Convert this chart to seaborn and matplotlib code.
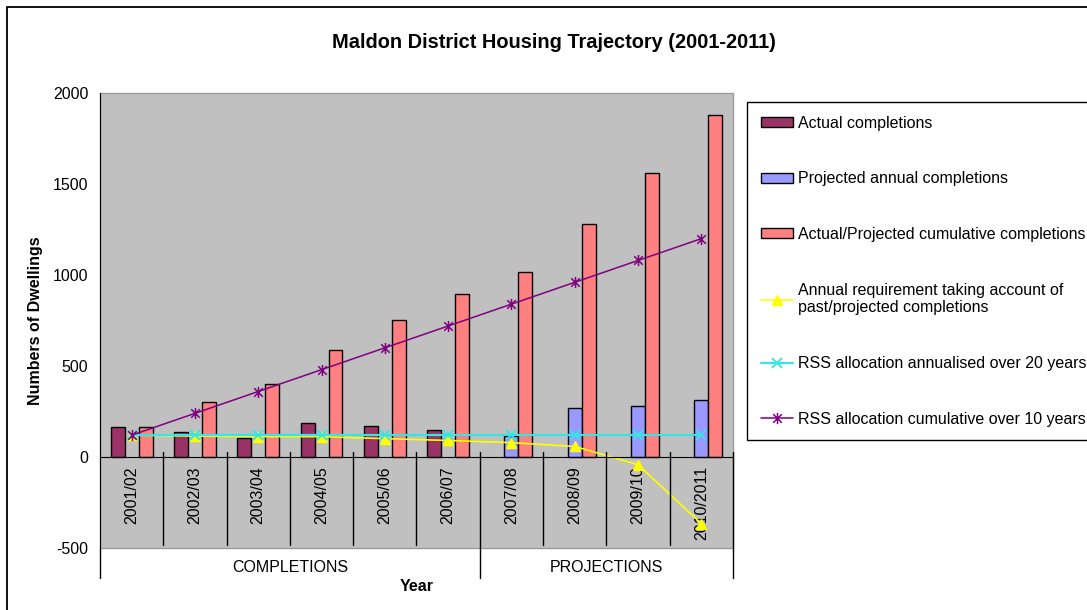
import numpy as np
import pandas as pd
import matplotlib
matplotlib.use("Agg")
import matplotlib.pyplot as plt
import matplotlib.transforms as mtransforms
from matplotlib.patches import Patch, Rectangle
from matplotlib.lines import Line2D
from matplotlib.path import Path
import seaborn as sns

# ---- data -------------------------------------------------------------
years = ["2001/02", "2002/03", "2003/04", "2004/05", "2005/06",
         "2006/07", "2007/08", "2008/09", "2009/10", "2010/2011"]
groups = ["COMPLETIONS", "PROJECTIONS"]
group_sizes = [6, 4]

nan = np.nan
actual = [165, 137, 104, 187, 172, 146, nan, nan, nan, nan]
projected = [nan, nan, nan, nan, nan, nan, 118, 269, 283, 316]
cumulative = [165, 302, 401, 586, 751, 897, 1016, 1283, 1558, 1877]
requirement = [120, 115, 112, 112, 101, 91, 79, 58, -42, -366]
rss_annual = [120, 120, 120, 120, 120, 120, 120, 120, 120, 120]
rss_cumulative = [120, 240, 360, 480, 600, 720, 840, 960, 1080, 1200]

bar_names = ["Actual completions", "Projected annual completions",
             "Actual/Projected cumulative completions"]
bar_colors = ["#993366", "#9999FF", "#FF8080"]

line_names = ["Annual requirement taking account of\npast/projected completions",
              "RSS allocation annualised over 20 years",
              "RSS allocation cumulative over 10 years"]

# ---- style ------------------------------------------------------------
sns.set_style("white")
plt.rcParams["font.family"] = ["Liberation Sans", "DejaVu Sans"]
plt.rcParams["axes.unicode_minus"] = False
for key in ["text.color", "axes.labelcolor", "xtick.color", "ytick.color"]:
    plt.rcParams[key] = "black"
FS = 11.5

# asterisk marker: a diagonal cross with a vertical stroke
asterisk = Path([(-1, -1), (1, 1), (-1, 1), (1, -1), (0, -1.3), (0, 1.3)],
                [Path.MOVETO, Path.LINETO, Path.MOVETO, Path.LINETO,
                 Path.MOVETO, Path.LINETO])

fig = plt.figure(figsize=(10.87, 6.10), dpi=100)
ax = fig.add_axes([0.092, 0.1016, 0.5823, 0.7459])

bars = pd.DataFrame({
    "Year": years * 3,
    "Series": np.repeat(bar_names, len(years)),
    "Dwellings": actual + projected + cumulative,
}).dropna()

sns.barplot(data=bars, x="Year", y="Dwellings", hue="Series",
            order=years, hue_order=bar_names, palette=bar_colors,
            width=0.66, saturation=1, errorbar=None,
            edgecolor="black", linewidth=1, legend=False, ax=ax)

pos = np.arange(len(years))
line_styles = [
    dict(color="#FFFF00", marker="^", markersize=7, linewidth=1.2, markeredgewidth=1),
    dict(color="#33E6E6", marker="x", markersize=7, linewidth=1.6, markeredgewidth=1.3),
    dict(color="#800080", marker=asterisk, markersize=8, linewidth=1.1, markeredgewidth=1.1),
]
for vals, st in zip([requirement, rss_annual, rss_cumulative], line_styles):
    sns.lineplot(x=pos, y=vals, sort=False, legend=False, ax=ax,
                 color=st["color"], marker=st["marker"], markersize=st["markersize"],
                 markeredgecolor=st["color"], markerfacecolor=st["color"],
                 markeredgewidth=st["markeredgewidth"], linewidth=st["linewidth"])

# ---- axes -------------------------------------------------------------
ax.set_xlim(-0.5, len(years) - 0.5)
ax.set_ylim(-500, 2000)
ax.set_facecolor("#C0C0C0")
ax.patch.set_edgecolor("#9A9A9A")
ax.patch.set_linewidth(1)
ax.spines["top"].set_visible(False)
ax.spines["right"].set_visible(False)
ax.spines["left"].set_color("black")
ax.spines["bottom"].set_color("black")
ax.spines["bottom"].set_position(("data", 0))

ax.set_yticks(np.arange(-500, 2001, 500))
ax.tick_params(axis="y", direction="inout", length=7, width=1,
               labelsize=FS, pad=5, colors="black")
ax.set_xticks(pos, years)
ax.tick_params(axis="x", length=0, labelrotation=90, labelsize=FS, pad=6.5,
               colors="black")

ax.set_ylabel("Numbers of Dwellings", fontsize=FS, fontweight="bold")
ax.yaxis.set_label_coords(-0.09, 0.5)
ax.set_xlabel("Year", fontsize=FS, fontweight="bold")
ax.xaxis.set_label_coords(0.5, -0.068)

# category separators and the two-level group axis
trans = mtransforms.blended_transform_factory(ax.transData, ax.transAxes)
bounds = np.concatenate([[-0.5], np.cumsum(group_sizes) - 0.5])
for b in np.arange(0.5, len(years) - 0.5):
    if b in bounds:
        continue
    ax.plot([b, b], [0.211, 0.0066], transform=trans, color="black",
            lw=1, clip_on=False, zorder=3)
for b in bounds:
    top = 0.0 if b == bounds[0] else 0.211
    ax.plot([b, b], [top, -0.066], transform=trans, color="black",
            lw=1, clip_on=False, zorder=3)
for name, lo, hi in zip(groups, bounds[:-1], bounds[1:]):
    ax.text((lo + hi) / 2, -0.042, name, transform=trans, ha="center",
            va="center", fontsize=FS, clip_on=False)

# ---- title, legend, frame ------------------------------------------------
fig.text(0.5092, 0.931, "Maldon District Housing Trajectory (2001-2011)",
         ha="center", va="center", fontsize=14.4, fontweight="bold")

handles = [Patch(facecolor=c, edgecolor="black", linewidth=1) for c in bar_colors]
handles += [Line2D([], [], color=st["color"], marker=st["marker"],
                   markersize=st["markersize"], markeredgecolor=st["color"],
                   markerfacecolor=st["color"], markeredgewidth=st["markeredgewidth"],
                   linewidth=st["linewidth"]) for st in line_styles]
leg = fig.legend(handles, bar_names + line_names, loc="upper left",
                 bbox_to_anchor=(747 / 1087, 1 - 102 / 610),
                 bbox_transform=fig.transFigure, frameon=True, fancybox=False,
                 edgecolor="black", framealpha=1, fontsize=FS,
                 handlelength=2.0, handleheight=0.6, handletextpad=0.35,
                 labelspacing=2.55, borderpad=0.85, borderaxespad=0)
leg.get_frame().set_linewidth(1)

fig.add_artist(Rectangle((7 / 1087, -0.1), 1.2, 1.1 - 7 / 610,
                         transform=fig.transFigure, fill=False,
                         edgecolor="black", linewidth=1.3))

fig.savefig("out.png", dpi=100)
